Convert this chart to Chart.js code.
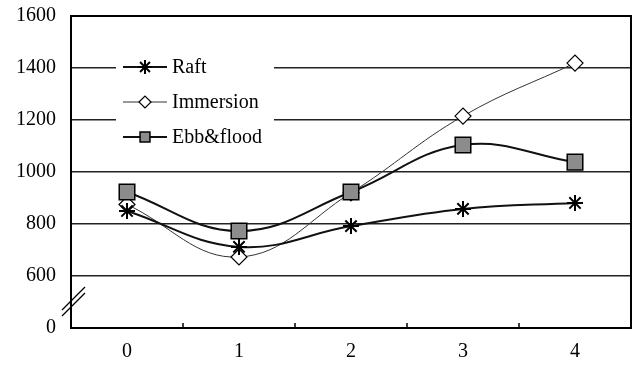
<!DOCTYPE html>
<html>
<head>
<meta charset="utf-8">
<script src="https://cdn.jsdelivr.net/npm/chart.js@4/dist/chart.umd.min.js"></script>
<style>
  html, body { margin: 0; padding: 0; background: #fff; }
  #chart { display: block; }
</style>
</head>
<body>
<canvas id="chart" width="635" height="368"></canvas>
<script>
const days = ['0', '1', '2', '3', '4'];
const raft = [850, 712, 792, 858, 881];
const immersion = [875, 673, 920, 1215, 1419];
const ebbFlood = [923, 773, 923, 1104, 1038];
const yTicks = [400, 600, 800, 1000, 1200, 1400, 1600]; // 400 is shown as 0 (broken axis)

const serif = "'Liberation Serif', 'Times New Roman', serif";

// frame round the plot area, inward ticks on x axis, axis break mark
const framePlugin = {
    id: 'frame',
    beforeDatasetsDraw(chart) {
        const ctx = chart.ctx;
        const a = chart.chartArea;
        const xs = chart.scales.x;
        ctx.save();
        ctx.strokeStyle = '#000';
        ctx.lineWidth = 2;
        ctx.strokeRect(a.left, a.top, a.right - a.left, a.bottom - a.top);
        ctx.lineWidth = 1.5;
        for (let i = 0; i < days.length - 1; i++) {
            const x = (xs.getPixelForTick(i) + xs.getPixelForTick(i + 1)) / 2;
            ctx.beginPath();
            ctx.moveTo(x, a.bottom);
            ctx.lineTo(x, a.bottom - 5);
            ctx.stroke();
        }
        // break mark between 0 and 600
        const cy = chart.scales.y.getPixelForValue(500);
        ctx.lineWidth = 1.3;
        [-3, 3].forEach(off => {
            ctx.beginPath();
            ctx.moveTo(a.left - 9, cy + 11 + off);
            ctx.lineTo(a.left + 14, cy - 12 + off);
            ctx.stroke();
        });
        ctx.restore();
    }
};

// legend drawn inside the plot, top left
const legendPlugin = {
    id: 'innerLegend',
    afterDatasetsDraw(chart) {
        const ctx = chart.ctx;
        const a = chart.chartArea;
        const bx = a.left + 45;
        const by = a.top + 30;
        const sizes = [7, 6, 7];
        ctx.save();
        ctx.fillStyle = '#fff';
        ctx.fillRect(bx, by, 158, 108);
        chart.data.datasets.forEach((ds, i) => {
            const y = a.top + 51 + i * 35;
            ctx.strokeStyle = ds.borderColor;
            ctx.lineWidth = ds.borderWidth;
            ctx.beginPath();
            ctx.moveTo(bx + 7, y);
            ctx.lineTo(bx + 51, y);
            ctx.stroke();
            ctx.fillStyle = ds.pointBackgroundColor;
            ctx.strokeStyle = ds.pointBorderColor;
            ctx.lineWidth = ds.pointBorderWidth;
            Chart.helpers.drawPoint(ctx, {
                pointStyle: ds.pointStyle,
                radius: sizes[i],
                rotation: 0,
                borderWidth: ds.pointBorderWidth
            }, bx + 29, y);
            ctx.fillStyle = '#000';
            ctx.font = '20px ' + serif;
            ctx.textBaseline = 'middle';
            ctx.textAlign = 'left';
            ctx.fillText(ds.label, bx + 56, y + 1);
        });
        ctx.restore();
    }
};

new Chart(document.getElementById('chart'), {
    type: 'line',
    data: {
        labels: days,
        datasets: [
            {
                label: 'Raft',
                data: raft,
                borderColor: '#111',
                borderWidth: 2,
                tension: 0.4,
                pointStyle: 'star',
                pointRadius: 8,
                pointBorderWidth: 2,
                pointBorderColor: '#000',
                pointBackgroundColor: '#000',
                order: 1
            },
            {
                label: 'Immersion',
                data: immersion,
                borderColor: '#333',
                borderWidth: 1,
                tension: 0.4,
                pointStyle: 'rectRot',
                pointRadius: 8,
                pointBorderWidth: 1.2,
                pointBorderColor: '#000',
                pointBackgroundColor: '#fff',
                order: 2
            },
            {
                label: 'Ebb&flood',
                data: ebbFlood,
                borderColor: '#111',
                borderWidth: 2,
                tension: 0.4,
                pointStyle: 'rect',
                pointRadius: 11,
                pointBorderWidth: 1.5,
                pointBorderColor: '#000',
                pointBackgroundColor: '#8c8c8c',
                order: 0
            }
        ]
    },
    options: {
        responsive: false,
        animation: false,
        devicePixelRatio: 1,
        layout: { autoPadding: false, padding: { top: 16, right: 4, left: 1, bottom: -8 } },
        plugins: {
            legend: { display: false },
            tooltip: { enabled: false }
        },
        scales: {
            x: {
                offset: true,
                grid: { display: false, drawTicks: false },
                border: { display: false },
                afterFit(scale) {
                    scale.paddingLeft = 0;
                    scale.paddingRight = 0;
                },
                ticks: {
                    color: '#000',
                    padding: 12,
                    font: { family: serif, size: 20 }
                }
            },
            y: {
                min: 400,
                max: 1600,
                afterBuildTicks(axis) {
                    axis.ticks = yTicks.map(v => ({ value: v }));
                },
                afterFit(scale) {
                    scale.paddingTop = 0;
                    scale.paddingBottom = 0;
                },
                grid: {
                    drawTicks: false,
                    color: '#222',
                    lineWidth: 1.5
                },
                border: { display: false },
                ticks: {
                    color: '#000',
                    padding: 15,
                    font: { family: serif, size: 20 },
                    callback: v => (v === 400 ? '0' : String(v))
                }
            }
        }
    },
    plugins: [framePlugin, legendPlugin]
});
</script>
</body>
</html>
